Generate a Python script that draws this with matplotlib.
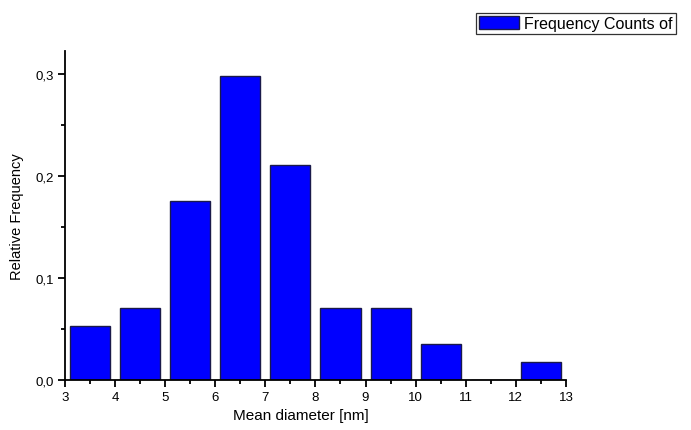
import matplotlib
matplotlib.use("Agg")
import matplotlib.pyplot as plt
from matplotlib.ticker import FuncFormatter, MultipleLocator

plt.rcParams['font.family'] = ['Liberation Sans', 'DejaVu Sans']

# bin centres (nm) and relative frequencies
centers = [3.5, 4.5, 5.5, 6.5, 7.5, 8.5, 9.5, 10.5, 11.5, 12.5]
freq = [0.0526, 0.0702, 0.1754, 0.2982, 0.2105, 0.0702, 0.0702, 0.0351, 0.0, 0.0175]

fig = plt.figure(figsize=(6.91, 4.31), dpi=100)
ax = fig.add_axes([0.094, 0.116, 0.725, 0.763])

bars = ax.bar(centers, freq, width=0.8, facecolor='#0000ff', edgecolor='#1a1a4a',
              linewidth=1.0, label='Frequency Counts of')

ax.set_xlim(3, 13)
ax.set_ylim(0, 0.3225)
ax.xaxis.set_major_locator(MultipleLocator(1))
ax.xaxis.set_minor_locator(MultipleLocator(0.5))
ax.yaxis.set_major_locator(MultipleLocator(0.1))
ax.yaxis.set_minor_locator(MultipleLocator(0.05))
ax.yaxis.set_major_formatter(FuncFormatter(lambda v, p: ('%.1f' % v).replace('.', ',')))

for s in ['top', 'right']:
    ax.spines[s].set_visible(False)
for s in ['left', 'bottom']:
    ax.spines[s].set_linewidth(1.3)
ax.tick_params(which='major', length=5, width=1.3, labelsize=9.5, pad=3, direction='out')
ax.tick_params(which='minor', length=3, width=1.3, direction='out')

ax.set_xlabel('Mean diameter [nm]', fontsize=11, labelpad=3)
ax.xaxis.set_label_coords(0.47, -0.085)
ax.set_ylabel('Relative Frequency', fontsize=10.5, labelpad=8)

leg = ax.legend(loc='upper left', bbox_to_anchor=(0.689, 0.968), bbox_transform=fig.transFigure,
                fontsize=11.5, frameon=True, fancybox=False, handlelength=2.5, handleheight=0.9,
                borderpad=0.2, handletextpad=0.3, borderaxespad=0)
leg.get_frame().set_edgecolor('black')
leg.get_frame().set_linewidth(0.9)

fig.savefig('out.png', dpi=100)
